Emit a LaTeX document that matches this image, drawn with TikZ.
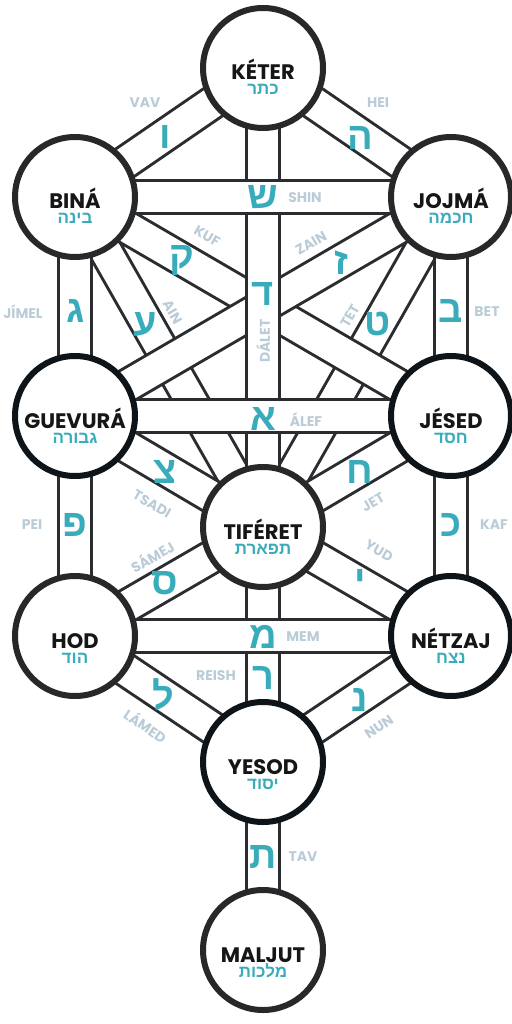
\documentclass[tikz,border=0pt]{standalone}
\usepackage{fontspec}
\usetikzlibrary{backgrounds}
\TeXXeTstate=1
\newfontfamily\namefont{Poppins}
\newfontfamily\hebfont[Script=Hebrew]{Liberation Sans}
\definecolor{ringdark}{RGB}{38,40,42}
\definecolor{ringblack}{RGB}{14,20,24}
\definecolor{bandline}{RGB}{42,44,48}
\definecolor{hebteal}{RGB}{56,172,186}
\definecolor{labelgrey}{RGB}{186,204,215}
\definecolor{namedark}{RGB}{22,22,22}

\begin{document}
\begin{tikzpicture}[x=1pt, y=1pt,
    sefira/.style={circle, draw=ringdark, line width=6pt, fill=white, minimum size=120pt, inner sep=0pt},
    sname/.style={anchor=base, inner sep=0pt, text=namedark, font=\namefont\bfseries\fontsize{21}{21}\selectfont},
    sheb/.style={anchor=base, inner sep=0pt, text=hebteal, font=\hebfont\bfseries\fontsize{17}{17}\selectfont},
    band/.style={draw=bandline, line width=3pt, double=white, double distance=30pt},
    letter/.style={inner sep=0pt, text=hebteal, font=\hebfont\bfseries\fontsize{38}{38}\selectfont},
    pathlabel/.style={inner sep=0pt, text=labelgrey, font=\namefont\bfseries\fontsize{14}{14}\selectfont}
]
    \useasboundingbox (0,0) rectangle (511,-1024);

    % the ten sefirot
    \node[sefira] (keter) at (263,-68) {};
    \node[sefira] (bina) at (75,-197) {};
    \node[sefira] (jojma) at (451,-197) {};
    \node[sefira, draw=ringblack] (guevura) at (75,-416) {};
    \node[sefira, draw=ringblack] (jesed) at (451,-416) {};
    \node[sefira] (tiferet) at (263,-527) {};
    \node[sefira] (hod) at (75,-636) {};
    \node[sefira, draw=ringblack] (netzaj) at (451,-636) {};
    \node[sefira, draw=ringblack] (yesod) at (263,-762) {};
    \node[sefira] (maljut) at (263,-950) {};

    \node[sname] (keter-name) at ([yshift=-12pt]keter.center) {KÉTER};
    \node[sheb] (keter-heb) at ([yshift=-27pt]keter.center) {\beginR כתר\endR};
    \node[sname] (bina-name) at ([yshift=-12pt]bina.center) {BINÁ};
    \node[sheb] (bina-heb) at ([yshift=-27pt]bina.center) {\beginR בינה\endR};
    \node[sname] (jojma-name) at ([yshift=-12pt]jojma.center) {JOJMÁ};
    \node[sheb] (jojma-heb) at ([yshift=-27pt]jojma.center) {\beginR חכמה\endR};
    \node[sname] (guevura-name) at ([yshift=-12pt]guevura.center) {GUEVURÁ};
    \node[sheb] (guevura-heb) at ([yshift=-27pt]guevura.center) {\beginR גבורה\endR};
    \node[sname] (jesed-name) at ([yshift=-12pt]jesed.center) {JÉSED};
    \node[sheb] (jesed-heb) at ([yshift=-27pt]jesed.center) {\beginR חסד\endR};
    \node[sname] (tiferet-name) at ([yshift=-12pt]tiferet.center) {TIFÉRET};
    \node[sheb] (tiferet-heb) at ([yshift=-27pt]tiferet.center) {\beginR תפארת\endR};
    \node[sname] (hod-name) at ([yshift=-12pt]hod.center) {HOD};
    \node[sheb] (hod-heb) at ([yshift=-27pt]hod.center) {\beginR הוד\endR};
    \node[sname] (netzaj-name) at ([yshift=-12pt]netzaj.center) {NÉTZAJ};
    \node[sheb] (netzaj-heb) at ([yshift=-27pt]netzaj.center) {\beginR נצח\endR};
    \node[sname] (yesod-name) at ([yshift=-12pt]yesod.center) {YESOD};
    \node[sheb] (yesod-heb) at ([yshift=-27pt]yesod.center) {\beginR יסוד\endR};
    \node[sname] (maljut-name) at ([yshift=-12pt]maljut.center) {MALJUT};
    \node[sheb] (maljut-heb) at ([yshift=-27pt]maljut.center) {\beginR מלכות\endR};

    % the 22 paths, lower ones first
    \begin{scope}[on background layer]
        \draw[band] (bina.center) -- (tiferet.center);
        \draw[band] (jojma.center) -- (tiferet.center);
        \draw[band] (bina.center) -- (jesed.center);
        \draw[band] (jojma.center) -- (guevura.center);
        \draw[band] (keter.center) -- (tiferet.center);
        \draw[band] (bina.center) -- (jojma.center);
        \draw[band] (guevura.center) -- (jesed.center);
        \draw[band] (keter.center) -- (bina.center);
        \draw[band] (keter.center) -- (jojma.center);
        \draw[band] (bina.center) -- (guevura.center);
        \draw[band] (jojma.center) -- (jesed.center);
        \draw[band] (guevura.center) -- (tiferet.center);
        \draw[band] (jesed.center) -- (tiferet.center);
        \draw[band] (guevura.center) -- (hod.center);
        \draw[band] (jesed.center) -- (netzaj.center);
        \draw[band] (hod.center) -- (tiferet.center);
        \draw[band] (netzaj.center) -- (tiferet.center);
        \draw[band] (tiferet.center) -- (yesod.center);
        \draw[band] (hod.center) -- (netzaj.center);
        \draw[band] (hod.center) -- (yesod.center);
        \draw[band] (netzaj.center) -- (yesod.center);
        \draw[band] (yesod.center) -- (maljut.center);
    \end{scope}

    % letters and names of the paths
    \node[letter] (vav) at (165,-137) {ו};
    \node[pathlabel] (vav-l) at (145,-103) {VAV};
    \node[letter] (hei) at (360,-138) {ה};
    \node[pathlabel] (hei-l) at (378,-103) {HEI};
    \node[letter] (shin) at (263,-197) {ש};
    \node[pathlabel] (shin-l) at (305,-198) {SHIN};
    \node[letter] (dalet) at (263,-294) {ד};
    \node[pathlabel, rotate=90] (dalet-l) at (263,-341) {DÁLET};
    \node[letter] (kuf) at (182,-261) {ק};
    \node[pathlabel, rotate=-30] (kuf-l) at (207,-236) {KUF};
    \node[letter] (zain) at (341,-263) {ז};
    \node[pathlabel, rotate=30] (zain-l) at (311,-243) {ZAIN};
    \node[letter] (ain) at (145,-324) {ע};
    \node[pathlabel, rotate=-60] (ain-l) at (173,-312) {AIN};
    \node[letter] (tet) at (378,-324) {ט};
    \node[pathlabel, rotate=60] (tet-l) at (350,-316) {TET};
    \node[letter] (jimel) at (76,-311) {ג};
    \node[pathlabel] (jimel-l) at (23,-312) {JÍMEL};
    \node[letter] (bet) at (451,-311) {ב};
    \node[pathlabel] (bet-l) at (487,-312) {BET};
    \node[letter] (alef) at (263,-419) {א};
    \node[pathlabel] (alef-l) at (306,-420) {ÁLEF};
    \node[letter] (tsadi) at (165,-472) {צ};
    \node[pathlabel, rotate=-30] (tsadi-l) at (152,-504) {TSADI};
    \node[letter] (jet) at (360,-472) {ח};
    \node[pathlabel, rotate=30] (jet-l) at (373,-502) {JET};
    \node[letter] (pei) at (75,-525) {פ};
    \node[pathlabel] (pei-l) at (32,-525) {PEI};
    \node[letter] (kaf) at (451,-525) {כ};
    \node[pathlabel] (kaf-l) at (494,-525) {KAF};
    \node[letter] (samej) at (165,-583) {ס};
    \node[pathlabel, rotate=30] (samej-l) at (152,-556) {SÁMEJ};
    \node[letter] (yud) at (360,-581) {י};
    \node[pathlabel, rotate=-30] (yud-l) at (379,-551) {YUD};
    \node[letter] (mem) at (263,-637) {מ};
    \node[pathlabel] (mem-l) at (303,-637) {MEM};
    \node[letter] (reish) at (263,-678) {ר};
    \node[pathlabel] (reish-l) at (216,-676) {REISH};
    \node[letter] (lamed) at (163,-695) {ל};
    \node[pathlabel, rotate=-34] (lamed-l) at (146,-725) {LÁMED};
    \node[letter] (nun) at (360,-700) {נ};
    \node[pathlabel, rotate=34] (nun-l) at (379,-727) {NUN};
    \node[letter] (tav) at (263,-857) {ת};
    \node[pathlabel] (tav-l) at (303,-857) {TAV};
\end{tikzpicture}
\end{document}
